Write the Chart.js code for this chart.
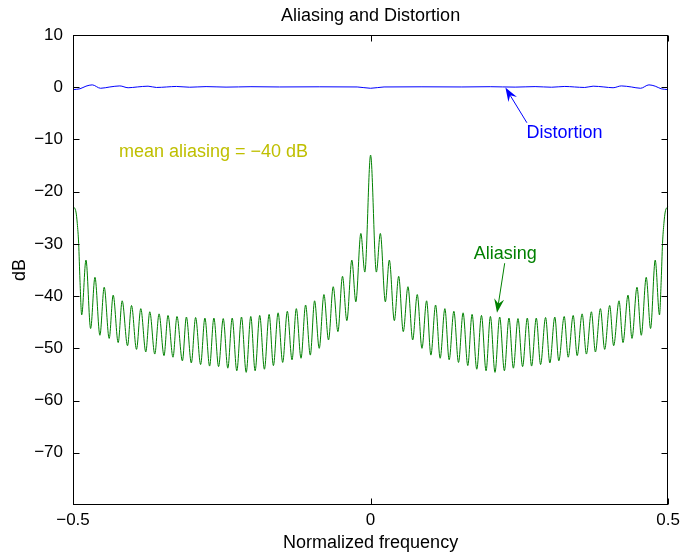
<!DOCTYPE html>
<html>
<head>
<meta charset="utf-8">
<script src="https://cdn.jsdelivr.net/npm/chart.js@4.4.1/dist/chart.umd.min.js"></script>
<style>
  body { margin: 0; background: #fff; }
  canvas { display: block; }
</style>
</head>
<body>
<canvas id="chart" width="685" height="554"></canvas>
<script>
// Aliasing curve (normalized frequency, dB): null / peak pairs
const aliasFreq = [
  -0.5000, -0.4950, -0.4928, -0.4905, -0.4883, -0.4854, -0.4782, -0.4704, -0.4631, -0.4548,
  -0.4476, -0.4392, -0.4325, -0.4241, -0.4174, -0.4084, -0.4017, -0.3933, -0.3861, -0.3777,
  -0.3710, -0.3626, -0.3554, -0.3471, -0.3404, -0.3320, -0.3253, -0.3162, -0.3095, -0.3012,
  -0.2940, -0.2856, -0.2784, -0.2705, -0.2633, -0.2554, -0.2476, -0.2399, -0.2325, -0.2248,
  -0.2169, -0.2090, -0.2013, -0.1940, -0.1863, -0.1784, -0.1705, -0.1633, -0.1554, -0.1477,
  -0.1399, -0.1320, -0.1248, -0.1169, -0.1092, -0.1013, -0.0941, -0.0863, -0.0784, -0.0707,
  -0.0628, -0.0549, -0.0472, -0.0399, -0.0315, -0.0248, -0.0164, -0.0097, 0,
  0.0097, 0.0164, 0.0248, 0.0315, 0.0399, 0.0472, 0.0549, 0.0628, 0.0707, 0.0784,
  0.0863, 0.0941, 0.1013, 0.1092, 0.1169, 0.1248, 0.1320, 0.1399, 0.1477, 0.1554,
  0.1633, 0.1705, 0.1784, 0.1863, 0.1940, 0.2013, 0.2090, 0.2169, 0.2248, 0.2325,
  0.2399, 0.2476, 0.2554, 0.2633, 0.2705, 0.2784, 0.2856, 0.2940, 0.3012, 0.3095,
  0.3162, 0.3253, 0.3320, 0.3404, 0.3471, 0.3554, 0.3626, 0.3710, 0.3777, 0.3861,
  0.3933, 0.4017, 0.4084, 0.4174, 0.4241, 0.4325, 0.4392, 0.4476, 0.4548, 0.4631,
  0.4704, 0.4782, 0.4854, 0.4883, 0.4905, 0.4928, 0.4950, 0.5000
];
const aliasDb = [
  -22.8, -23.9, -26.1, -29.9, -36.9, -43.6, -33.1, -46.2, -36.4, -47.5,
  -38.3, -48.1, -39.8, -48.9, -40.9, -49.5, -41.8, -50.2, -42.4, -50.7,
  -43.0, -51.1, -43.4, -51.4, -43.7, -51.7, -43.9, -52.4, -44.0, -52.8,
  -44.1, -53.1, -44.2, -53.4, -44.2, -53.5, -44.3, -53.8, -44.2, -54.3,
  -44.0, -54.6, -43.9, -54.3, -43.7, -54.0, -43.5, -53.3, -43.2, -52.7,
  -42.9, -52.2, -42.4, -51.9, -41.7, -51.3, -40.9, -50.0, -39.7, -48.4,
  -38.2, -46.8, -36.2, -44.7, -33.1, -41.1, -28.0, -35.4, -13.0,
  -35.4, -28.0, -41.1, -33.1, -44.7, -36.2, -46.8, -38.2, -48.4, -39.7,
  -50.0, -40.9, -51.3, -41.7, -51.9, -42.4, -52.2, -42.9, -52.7, -43.2,
  -53.3, -43.5, -54.0, -43.7, -54.3, -43.9, -54.6, -44.0, -54.3, -44.2,
  -53.8, -44.3, -53.5, -44.2, -53.4, -44.2, -53.1, -44.1, -52.8, -44.0,
  -52.4, -43.9, -51.7, -43.7, -51.4, -43.4, -51.1, -43.0, -50.7, -42.4,
  -50.2, -41.8, -49.5, -40.9, -48.9, -39.8, -48.1, -38.3, -47.5, -36.4,
  -46.2, -33.1, -43.6, -36.9, -29.9, -26.1, -23.9, -22.8
];

// Distortion curve, stays close to 0 dB
const distFreq = [
  -0.5000, -0.4883, -0.4782, -0.4677, -0.4536, -0.4380, -0.4213, -0.4074, -0.3920, -0.3739,
  -0.3598, -0.3425, -0.3263, -0.3040, -0.2764, -0.2429, -0.2010, -0.1533, -0.0863, -0.0226, 0,
  0.0226, 0.0863, 0.1533, 0.2010, 0.2429, 0.2764, 0.3040, 0.3263, 0.3425, 0.3598,
  0.3739, 0.3920, 0.4074, 0.4213, 0.4380, 0.4536, 0.4677, 0.4782, 0.4883, 0.5000
];
const distDb = [
  -0.45, -0.30, 0.20, 0.45, -0.20, 0.05, 0.25, -0.10, 0.05, 0.20,
  -0.05, 0.05, 0.15, 0.00, 0.12, 0.02, 0.10, 0.05, 0.08, 0.05, -0.20,
  0.05, 0.08, 0.05, 0.10, 0.02, 0.12, 0.00, 0.15, 0.05, -0.05,
  0.20, 0.05, -0.10, 0.25, 0.05, -0.20, 0.45, 0.20, -0.30, -0.45
];

const xTicks = [-0.5, 0, 0.5];
const yTicks = [10, 0, -10, -20, -30, -40, -50, -60, -70];

const FONT = 'Liberation Sans, Arial, Helvetica, sans-serif';
const minus = v => String(v).replace('-', '\u2212');

function arrow(ctx, x1, y1, x2, y2, color) {
  const ang = Math.atan2(y2 - y1, x2 - x1);
  const len = 14, half = 5;
  const cx = Math.cos(ang), sy = Math.sin(ang);
  ctx.strokeStyle = color;
  ctx.fillStyle = color;
  ctx.lineWidth = 1;
  ctx.beginPath();
  ctx.moveTo(x1, y1);
  ctx.lineTo(x2 - cx * len * 0.6, y2 - sy * len * 0.6);
  ctx.stroke();
  const bx = x2 - cx * len, by = y2 - sy * len;
  ctx.beginPath();
  ctx.moveTo(x2, y2);
  ctx.lineTo(bx - sy * half, by + cx * half);
  ctx.lineTo(x2 - cx * len * 0.65, y2 - sy * len * 0.65);
  ctx.lineTo(bx + sy * half, by - cx * half);
  ctx.closePath();
  ctx.fill();
}

// matlab style box with inward ticks, plus text and arrow annotations
const decorations = {
  id: 'decorations',
  afterDraw(chart) {
    const { ctx, chartArea: a, scales: { x, y } } = chart;
    ctx.save();
    ctx.strokeStyle = '#000';
    ctx.lineWidth = 1;
    const L = Math.round(a.left) + 0.5, R = Math.round(a.right) - 0.5;
    const T = Math.round(a.top) + 0.5, B = Math.round(a.bottom) - 0.5;
    ctx.strokeRect(L, T, R - L, B - T);
    ctx.beginPath();
    yTicks.forEach(v => {
      const py = Math.round(y.getPixelForValue(v)) + 0.5;
      ctx.moveTo(L, py); ctx.lineTo(L + 6, py);
      ctx.moveTo(R, py); ctx.lineTo(R - 6, py);
    });
    xTicks.forEach(v => {
      const px = Math.round(x.getPixelForValue(v)) + 0.5;
      ctx.moveTo(px, B); ctx.lineTo(px, B - 6);
      ctx.moveTo(px, T); ctx.lineTo(px, T + 6);
    });
    ctx.stroke();

    ctx.font = '18px ' + FONT;
    ctx.textBaseline = 'middle';
    ctx.textAlign = 'left';
    ctx.fillStyle = '#bfbf00';
    ctx.fillText('mean aliasing = \u221240 dB', x.getPixelForValue(-0.4229), y.getPixelForValue(-12.4));
    ctx.fillStyle = '#0000ff';
    ctx.fillText('Distortion', x.getPixelForValue(0.2621), y.getPixelForValue(-8.8));
    ctx.fillStyle = '#008000';
    ctx.fillText('Aliasing', x.getPixelForValue(0.1734), y.getPixelForValue(-32.0));

    arrow(ctx, x.getPixelForValue(0.2626), y.getPixelForValue(-6.8),
               x.getPixelForValue(0.2265), y.getPixelForValue(-0.06), '#0000ff');
    arrow(ctx, x.getPixelForValue(0.2253), y.getPixelForValue(-33.7),
               x.getPixelForValue(0.2124), y.getPixelForValue(-43.2), '#008000');
    ctx.restore();
  }
};

new Chart(document.getElementById('chart'), {
  type: 'line',
  data: {
    datasets: [
      {
        label: 'Distortion',
        data: distFreq.map((f, i) => ({ x: f, y: distDb[i] })),
        borderColor: '#0000ff',
        borderWidth: 1,
        pointRadius: 0,
        cubicInterpolationMode: 'monotone'
      },
      {
        label: 'Aliasing',
        data: aliasFreq.map((f, i) => ({ x: f, y: aliasDb[i] })),
        borderColor: '#008000',
        borderWidth: 1,
        pointRadius: 0,
        cubicInterpolationMode: 'monotone'
      }
    ]
  },
  options: {
    responsive: false,
    animation: false,
    layout: { padding: { left: 0, right: 15, top: 0, bottom: 0 } },
    plugins: {
      legend: { display: false },
      tooltip: { enabled: false },
      title: {
        display: true,
        fullSize: false,
        text: 'Aliasing and Distortion',
        color: '#000',
        font: { family: FONT, size: 18, weight: 'normal', lineHeight: 1.2 },
        padding: { top: 5.2, bottom: 8.2 }
      }
    },
    scales: {
      x: {
        type: 'linear',
        min: -0.5,
        max: 0.5,
        afterFit: s => { s.height = 49; },
        afterBuildTicks: s => { s.ticks = xTicks.map(v => ({ value: v })); },
        grid: { display: false, drawTicks: false },
        border: { display: false },
        ticks: {
          color: '#000',
          padding: 5,
          maxRotation: 0,
          font: { family: FONT, size: 17 },
          callback: v => minus(v)
        },
        title: {
          display: true,
          text: 'Normalized frequency',
          color: '#000',
          font: { family: FONT, size: 18, lineHeight: 1.2 },
          padding: { top: 0, bottom: 0 }
        }
      },
      y: {
        min: -80,
        max: 10,
        afterFit: s => { s.width = 73; },
        afterBuildTicks: s => { s.ticks = yTicks.map(v => ({ value: v })); },
        grid: { display: false, drawTicks: false },
        border: { display: false },
        ticks: {
          color: '#000',
          padding: 10,
          font: { family: FONT, size: 17 },
          callback: v => minus(v)
        },
        title: {
          display: true,
          text: 'dB',
          color: '#000',
          font: { family: FONT, size: 18, lineHeight: 1.2 },
          padding: { top: 9, bottom: 0 }
        }
      }
    }
  },
  plugins: [decorations]
});
</script>
</body>
</html>
